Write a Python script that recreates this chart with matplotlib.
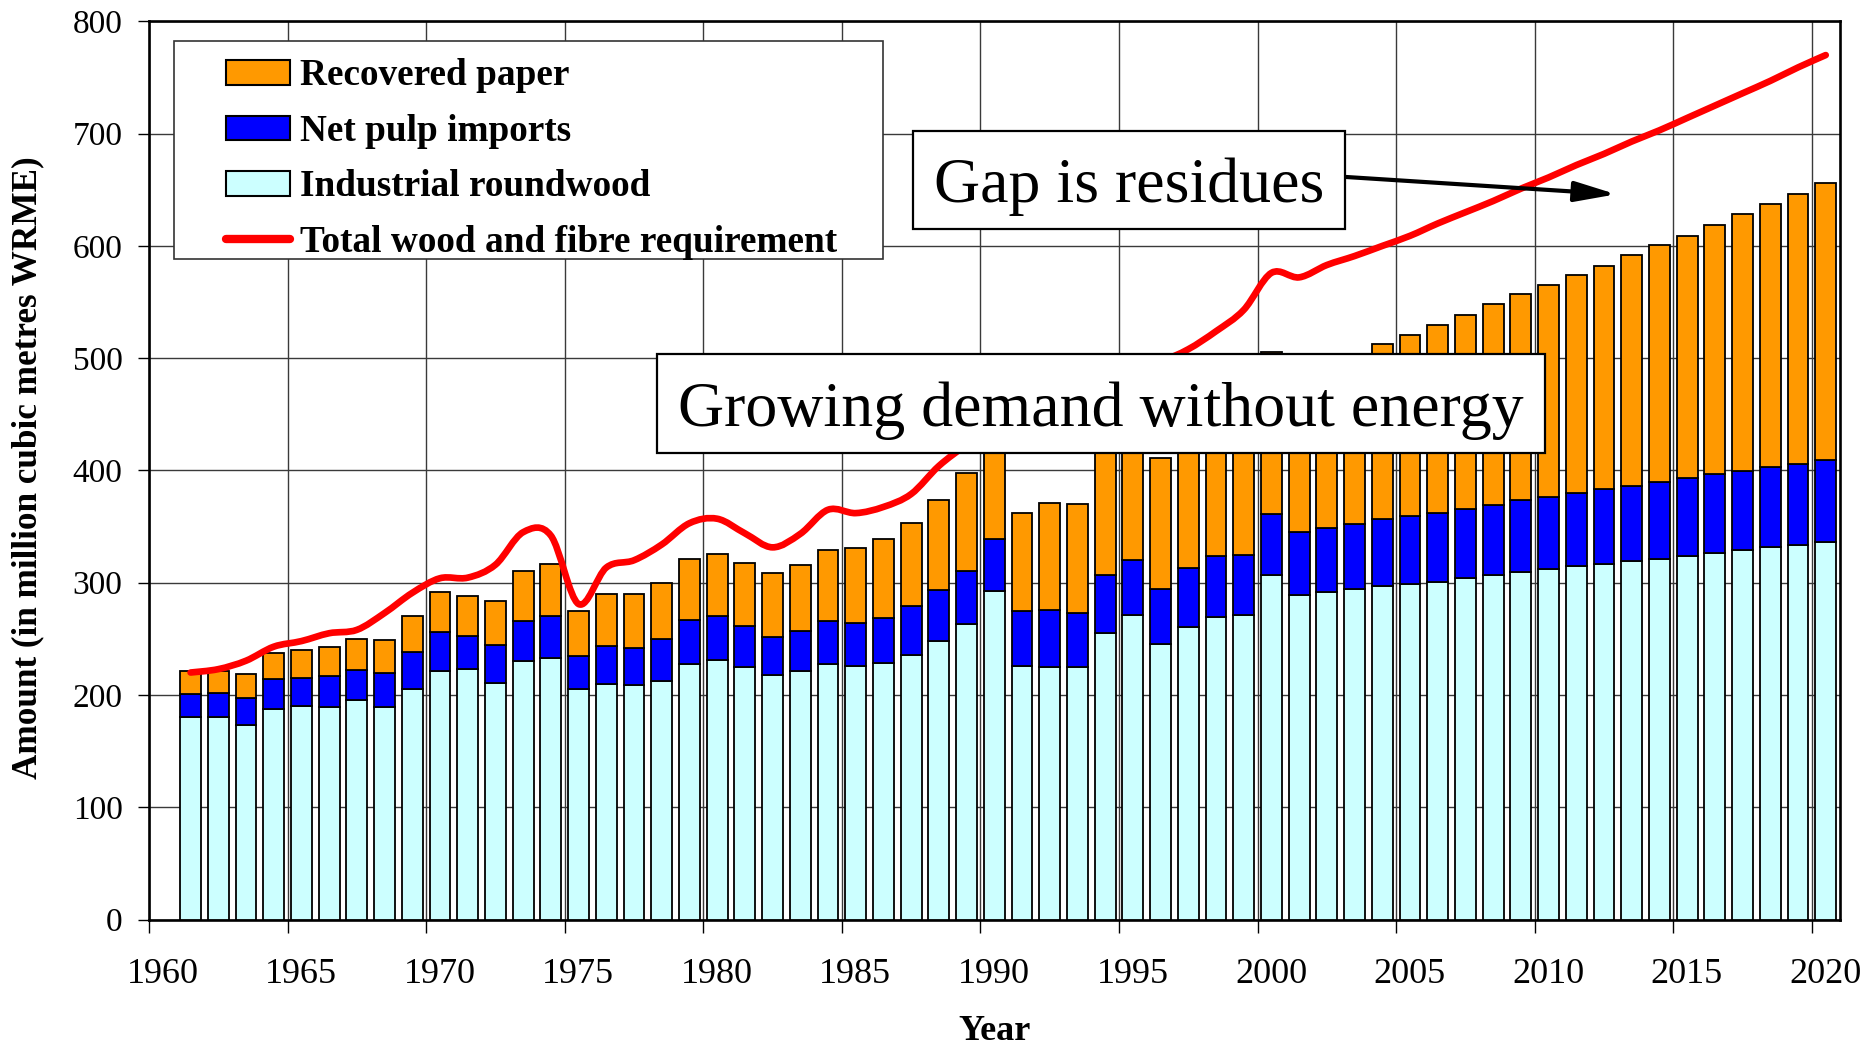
import numpy as np
import matplotlib
matplotlib.use("Agg")
import matplotlib.pyplot as plt
import matplotlib.transforms as mtransforms
from matplotlib.path import Path
from matplotlib.patches import PathPatch, Rectangle, Patch
from matplotlib.lines import Line2D

plt.rcParams['font.family'] = ['Liberation Serif', 'DejaVu Serif']

# ---------------- data (million m3 WRME) ----------------
years = list(range(1961, 2021))

roundwood = [180, 180.5, 173, 187.5, 190, 189, 195.5, 189.5, 205, 221,
             223.5, 211, 230.5, 232.5, 205.5, 210, 209, 212.5, 228, 231.5,
             224.5, 218, 221, 227.5, 226, 228.5, 235.5, 248.5, 263, 293,
             226, 225, 225, 255, 271, 245, 260.5, 269.5, 271, 307,
             289, 291.5, 294, 297, 299, 301, 304, 306.5, 309.5, 312,
             314.5, 316.5, 319, 321.5, 324, 326.5, 329, 331.5, 334, 336]

pulp_imports = [20.5, 21.5, 24.5, 26.5, 25.5, 28, 27, 30, 33, 35.5,
                29, 33.5, 35, 37.5, 29, 33.5, 32.5, 37, 38.5, 38.5,
                36.5, 34, 36, 38, 38, 40.5, 44, 45, 47, 46,
                48.5, 50.5, 48, 52, 49.5, 49, 53, 54, 53.5, 54.5,
                56, 57, 58.5, 59.5, 60.5, 61.5, 62, 63, 64, 64.5,
                65.5, 67, 67.5, 68, 69, 70, 70.5, 71.5, 72, 73]

recovered_paper = [20.5, 19, 21, 23, 24.5, 25.5, 27, 29.5, 32, 35.5,
                   35.5, 39, 44.5, 47, 40.5, 46.5, 48.5, 50.5, 54.5, 55.5,
                   57, 57, 59, 63.5, 67, 69.5, 73.5, 80, 87.5, 86,
                   87.5, 95.5, 97.5, 115, 119.5, 117, 126.5, 128.5, 135.5, 144,
                   143, 145.5, 147.5, 156, 161.5, 167, 172.5, 178.5, 183.5, 189,
                   194, 199, 205, 211, 215.5, 222, 228.5, 234.5, 240.5, 247]

total_requirement = [220, 223, 230.5, 243, 248, 255, 258, 273, 291, 304,
                     304.5, 316, 345, 342, 281, 313.5, 320, 334, 353, 357,
                     344, 331.5, 343.5, 365, 362, 367.5, 379, 404, 423, 440,
                     448, 458, 466, 478, 490, 497, 508, 524, 543, 576,
                     572, 583, 591, 600, 609, 620, 630, 640, 651, 661,
                     672, 682, 693, 703, 714, 725, 736, 747, 759, 770]

series_labels = ["Recovered paper", "Net pulp imports", "Industrial roundwood",
                 "Total wood and fibre requirement"]
x_ticks = list(range(1960, 2021, 5))
y_ticks = list(range(0, 801, 100))

# ---------------- figure ----------------
W, H = 1867, 1047
fig = plt.figure(figsize=(W / 100, H / 100), dpi=100)
ax = fig.add_axes([149 / W, 1 - 919.5 / H, (1839.6 - 149) / W, (919.5 - 21.4) / H])

c_rp, c_pulp, c_rw, c_line = "#FF9900", "#0000FF", "#CCFFFF", "#FF0000"

xpos = np.array(years) + 0.5
rw = np.array(roundwood)
pu = np.array(pulp_imports)
rp = np.array(recovered_paper)
bw = 0.75
ekw = dict(edgecolor="black", linewidth=1.3, zorder=3)
ax.bar(xpos, rw, bw, color=c_rw, **ekw)
ax.bar(xpos, pu, bw, bottom=rw, color=c_pulp, **ekw)
ax.bar(xpos, rp, bw, bottom=rw + pu, color=c_rp, **ekw)

# smoothed total line (Bezier through the yearly values, Excel-style)
P = np.column_stack([xpos, np.array(total_requirement, dtype=float)])
n = len(P)
verts = [tuple(P[0])]
codes = [Path.MOVETO]
for i in range(n - 1):
    p0 = P[i - 1] if i > 0 else P[i]
    p1, p2 = P[i], P[i + 1]
    p3 = P[i + 2] if i + 2 < n else P[i + 1]
    c1 = p1 + (p2 - p0) / 6.0
    c2 = p2 - (p3 - p1) / 6.0
    verts += [tuple(c1), tuple(c2), tuple(p2)]
    codes += [Path.CURVE4] * 3
ax.add_patch(PathPatch(Path(verts, codes), facecolor="none", edgecolor=c_line,
                       linewidth=4.8, capstyle="round", joinstyle="round", zorder=4))

# axes styling
ax.set_xlim(1960, 2021)
ax.set_ylim(0, 800)
ax.set_xticks(x_ticks)
ax.set_yticks(y_ticks)
ax.grid(True, color="#3a3a3a", linewidth=1.0, zorder=0)
ax.set_axisbelow(True)
for s in ax.spines.values():
    s.set_linewidth(1.9)
    s.set_color("black")
ax.tick_params(axis="x", direction="out", length=9, width=1.0, pad=19, labelsize=26)
ax.tick_params(axis="y", direction="out", length=8, width=1.0, pad=11, labelsize=24)
offset = mtransforms.ScaledTranslation(0.135, 0, fig.dpi_scale_trans)
for lab in ax.get_xticklabels():
    lab.set_transform(lab.get_transform() + offset)

ax.set_xlabel("Year", fontsize=26, fontweight="bold", va="center")
ax.xaxis.set_label_coords(0.5, -0.1248)
ax.set_ylabel("Amount (in million cubic metres WRME)", fontsize=25.3,
              fontweight="bold", va="center")
ax.yaxis.set_label_coords(-0.0714, 0.503)

# legend with a wide frame
ax.add_patch(Rectangle((0.0148, 0.7349), 0.4342 - 0.0148, 0.9782 - 0.7349,
                       transform=ax.transAxes, facecolor="white",
                       edgecolor="#333333", linewidth=1.2, zorder=6))
handles = [Patch(facecolor=c_rp, edgecolor="black", linewidth=1.5),
           Patch(facecolor=c_pulp, edgecolor="black", linewidth=1.5),
           Patch(facecolor=c_rw, edgecolor="black", linewidth=1.5),
           Line2D([0], [0], color=c_line, linewidth=6, solid_capstyle="round")]
leg = ax.legend(handles, series_labels, loc="upper left",
                bbox_to_anchor=(0.0455, 0.9587), borderaxespad=0, borderpad=0,
                frameon=False, prop=dict(family="Liberation Serif", weight="bold", size=26.8),
                handlelength=1.72, handleheight=0.64, handletextpad=0.28,
                labelspacing=0.55)
leg.set_zorder(7)

# annotation boxes
ax.add_patch(Rectangle((1987.56, 614.7), 2003.15 - 1987.56, 702.8 - 614.7,
                       facecolor="white", edgecolor="black", linewidth=1.6, zorder=8))
ax.text((1987.56 + 2003.15) / 2, 652.5, "Gap is residues", fontsize=46,
        ha="center", va="center", zorder=9)
ax.annotate("", xy=(2012.94, 646), xytext=(2003.2, 661.4),
            arrowprops=dict(arrowstyle="-|>,head_length=0.9,head_width=0.22",
                            color="black", lw=3, mutation_scale=28,
                            shrinkA=0, shrinkB=0),
            zorder=9)

ax.add_patch(Rectangle((1978.32, 415.6), 2010.37 - 1978.32, 503.4 - 415.6,
                       facecolor="white", edgecolor="black", linewidth=1.6, zorder=8))
ax.text((1978.32 + 2010.37) / 2, 453, "Growing demand without energy", fontsize=46,
        ha="center", va="center", zorder=9)

fig.savefig("out.png", dpi=100)
